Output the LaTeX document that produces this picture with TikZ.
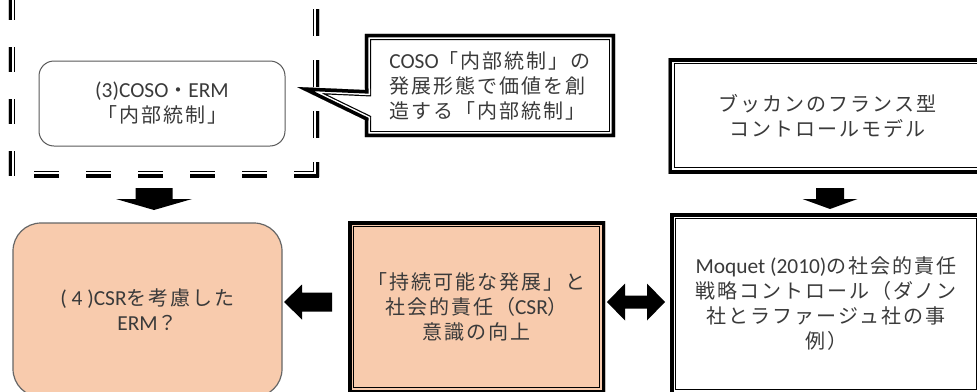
\documentclass[tikz,border=0pt]{standalone}
\usepackage{fontspec}
\setmainfont{Carlito}[Scale=1.07]
\newfontfamily\jp{Noto Sans CJK JP}[LetterSpace=10]
\usetikzlibrary{calc}
\definecolor{pinkfill}{HTML}{F8CBAD}
\definecolor{txt}{HTML}{3A3A3A}
\tikzset{
  box/.style={inner sep=0pt, align=center},
  dblframe/.style={path picture={
    \draw[line width=12.4] (path picture bounding box.south west) rectangle (path picture bounding box.north east);
    \draw[#1, line width=10] (path picture bounding box.south west) rectangle (path picture bounding box.north east);
    \draw[line width=7] (path picture bounding box.south west) rectangle (path picture bounding box.north east);}},
  pics/downarr/.style args={#1/#2/#3/#4}{code={\fill (-#1,-#3) -- (#1,-#3) -- (#1,0) -- (#2,0) -- (0,#4) -- (-#2,0) -- (-#1,0) -- cycle;}},
  pics/leftarr/.style={code={\fill (0,-17.5) -- (-18,0) -- (0,17.5) -- (0,9.5) -- (30,9.5) -- (30,-9.5) -- (0,-9.5) -- cycle;}},
  pics/dblarr/.style={code={\fill (-29,0) -- (-11,-18.5) -- (-11,-6.5) -- (11,-6.5) -- (11,-18.5) -- (29,0) -- (11,18.5) -- (11,6.5) -- (-11,6.5) -- (-11,18.5) -- cycle;}},
}
\begin{document}
\begin{tikzpicture}[x=1pt, y=-1pt, font=\fontsize{20}{25}\selectfont, text=txt]
\useasboundingbox (0,0) rectangle (977,391);
\clip (0,0) rectangle (977,391);

% dashed frame
\path node[box, minimum width=310, minimum height=237] (dbox) at (164,58.5) {};
\begin{scope}
  \clip (dbox.north west) rectangle (dbox.south east);
  \foreach \w/\c in {12.4/black,10/white,7/black}{
    \draw[\c, line width=\w, dash pattern=on 25 off 27] (dbox.south east) -- (dbox.south west) -- (dbox.north west);
    \draw[\c, line width=\w, dash pattern=on 27 off 24, dash phase=12] (dbox.south east) -- (dbox.north east);
  }
\end{scope}

% (3) box
\node[box, minimum width=246, minimum height=85, rounded corners=15, draw=black!65, line width=1, fill=white] (erm3) at (162,103.5)
  {(3)COSO{\jp ・}ERM\\{\jp 「内部統制」}};

% callout
\path node[box, minimum width=250, minimum height=103] (co) at (490,85.5) {};
\coordinate (cpa) at (365,90);
\coordinate (cpb) at (365,120);
\coordinate (ctip) at (297,87);
\def\callpath{(co.north west) -- (co.north east) -- (co.south east) -- (co.south west) -- (cpb) -- (ctip) -- (cpa) -- cycle}
\fill[white] \callpath;
\begin{scope}
  \clip \callpath;
  \draw[line width=12.4, miter limit=20] \callpath;
  \draw[white, line width=10, miter limit=20] \callpath;
  \draw[line width=7, miter limit=20] \callpath;
\end{scope}
\node[box, align=left] (cotext) at (co.center)
  {COSO{\jp 「内部統制」の}\\{\jp 発展形態で価値を創}\\{\jp 造する「内部統制」}};

% Bucan box
\node[box, minimum width=318, minimum height=115, fill=white, dblframe=white] (bucan) at (827.5,115.5)
  {{\jp ブッカンのフランス型}\\{\jp コントロールモデル}};

% Moquet box
\node[box, minimum width=312, minimum height=182, fill=white, dblframe=white] (moq) at (826,304)
  {Moquet (2010){\jp の社会的責任}\\{\jp 戦略コントロール（ダノン}\\{\jp 社とラファージュ社の事}\\{\jp 例）}};

% middle pink box
\node[box, minimum width=257, minimum height=172, fill=pinkfill, dblframe=pinkfill] (mid) at (476.5,307)
  {{\jp 「持続可能な発展」と}\\{\jp 社会的責任（}CSR{\jp ）}\\{\jp 意識の向上}};

% left pink rounded box
\node[box, minimum width=269, minimum height=174, rounded corners=28, fill=pinkfill, draw=black!60, line width=1.2] (csr) at (147.5,310)
  {( 4 )CSR{\jp を考慮した}\\ERM{\jp ？}};

% block arrows
\pic at (154,199) {downarr={18.5/38/11/11}};
\pic at (830,199) {downarr={14/27.5/11/10}};
\pic at (302,302) {leftarr};
\pic at (636,302) {dblarr};
\end{tikzpicture}
\end{document}
